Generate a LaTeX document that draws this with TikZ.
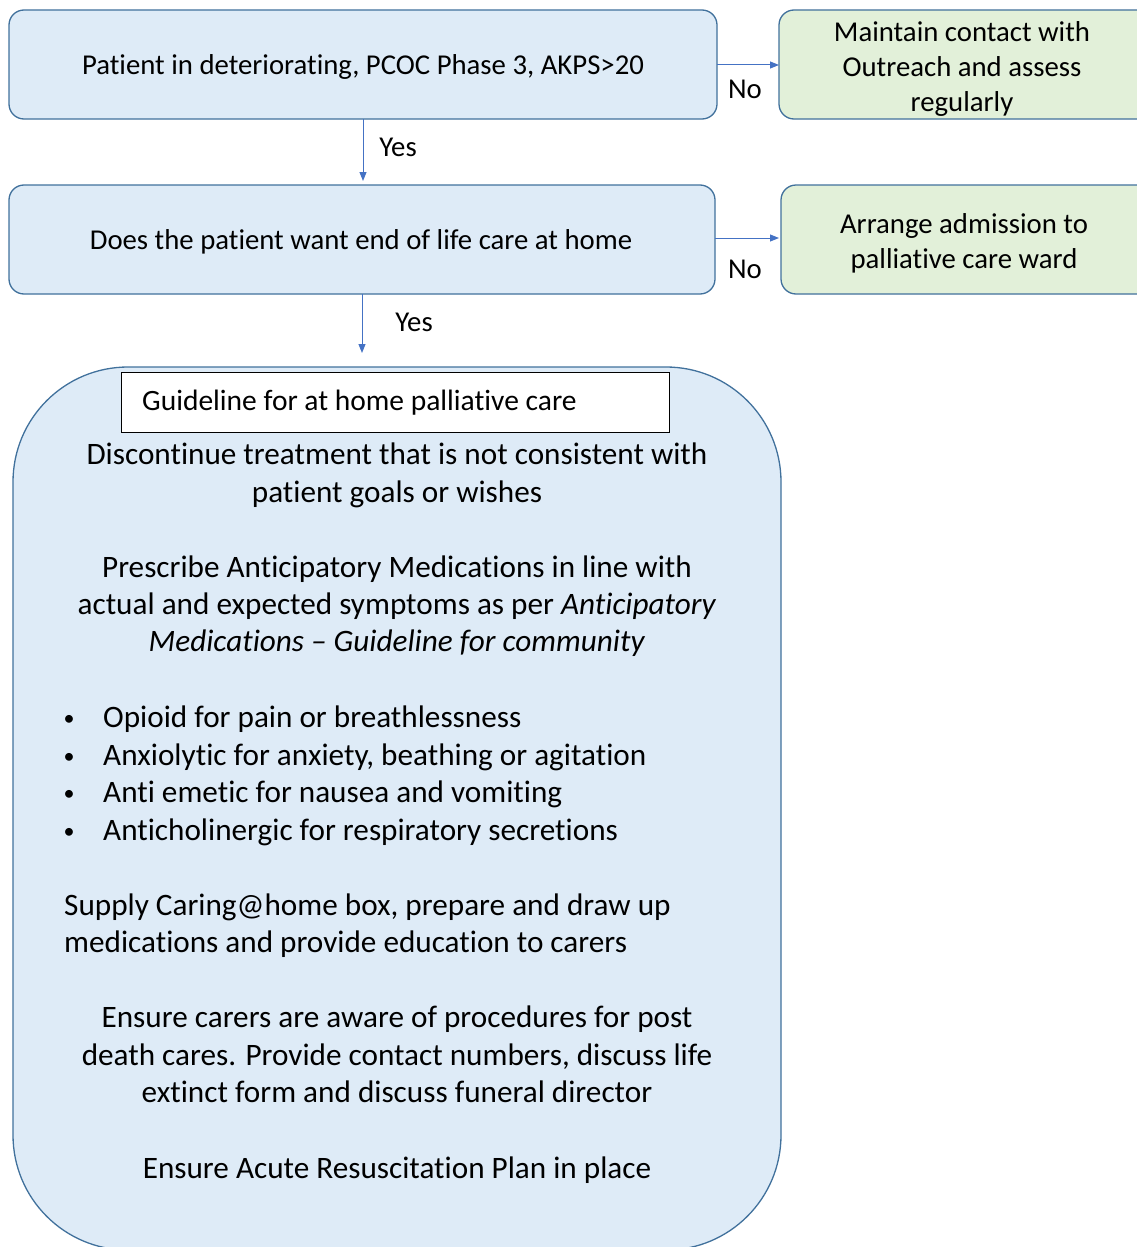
\documentclass[tikz,border=0pt]{standalone}
\usepackage{fontspec}
\setmainfont{Carlito}[Ligatures={NoCommon},Contextuals={NoAlternate}]
\usetikzlibrary{arrows.meta}
\definecolor{boxblue}{HTML}{DEEBF7}
\definecolor{boxgreen}{HTML}{E2F0D9}
\definecolor{edgeblue}{HTML}{41719C}
\definecolor{arrowblue}{HTML}{4472C4}
\tikzset{
  flowbox/.style={draw=edgeblue, line width=1.3pt, rounded corners=15pt},
  bluebox/.style={flowbox, fill=boxblue},
  greenbox/.style={flowbox, fill=boxgreen},
  conn/.style={draw=arrowblue, line width=1pt, -{Triangle[length=9pt,width=7pt]}},
  smalltxt/.style={font=\fontsize{28.75}{35}\selectfont, inner sep=0pt, align=center},
  bigtxt/.style={font=\fontsize{31.2}{37.5}\selectfont, inner sep=0pt, anchor=base},
  bullettxt/.style={font=\fontsize{22}{37.5}\selectfont, inner sep=0pt, anchor=base},
}
\begin{document}
\begin{tikzpicture}[x=1pt,y=-1pt]
\useasboundingbox (0,0) rectangle (1137,1247);
\clip (0,0) rectangle (1137,1247);

% top row
\draw[bluebox] (9,10) rectangle (717,119);
\node[smalltxt] (q1) at (363,67) {Patient in deteriorating, PCOC Phase 3, AKPS>20};
\coordinate (q1r) at (717,65);
\coordinate (q1b) at (363,119);
\draw[greenbox] (779,10) rectangle (1160,119);
\node[smalltxt] (g1) at (962,69) {Maintain contact with\\Outreach and assess\\regularly};
\coordinate (g1l) at (779,65);

% second row
\draw[bluebox] (9,185) rectangle (715,294);
\node[smalltxt] (q2) at (361,242) {Does the patient want end of life care at home};
\coordinate (q2t) at (363,181);
\coordinate (q2r) at (715,238);
\coordinate (q2b) at (362,294);
\draw[greenbox] (781,185) rectangle (1160,294);
\node[smalltxt] (g2) at (964,243) {Arrange admission to\\palliative care ward};
\coordinate (g2l) at (779,238);

% connectors
\draw[conn] (q1r) -- (g1l);
\node[smalltxt] (no1) at (745,89) {No};
\draw[conn] (q1b) -- (q2t);
\node[smalltxt] (yes1) at (398,147) {Yes};
\draw[conn] (q2r) -- (g2l);
\node[smalltxt] (no2) at (745,269) {No};
\coordinate (bigt) at (362,353);
\draw[conn] (q2b) -- (bigt);
\node[smalltxt] (yes2) at (414,322) {Yes};

% big guideline box
\draw[draw=edgeblue, line width=1.3pt, fill=boxblue, rounded corners=115pt] (13,367) rectangle (781,1250);
\node[draw=black, fill=white, line width=0.8pt, minimum width=548pt, minimum height=60pt, inner sep=0pt] (hdr) at (395,402) {};
\node[font=\fontsize{29.5}{34}\selectfont, inner sep=0pt, anchor=west] (hdrt) at (142,403) {Guideline for at home palliative care};

\node[bigtxt] (l1) at (397,464) {Discontinue treatment that is not consistent with};
\node[bigtxt] (l2) at (397,502) {patient goals or wishes};
\node[bigtxt] (l3) at (397,577) {Prescribe Anticipatory Medications in line with};
\node[bigtxt] (l4) at (397,614) {actual and expected symptoms as per \textit{Anticipatory}};
\node[bigtxt] (l5) at (397,651) {\textit{Medications – Guideline for community}};

\node[bullettxt] (b1) at (69,725) {•};
\node[bigtxt, anchor=base west] (t1) at (103,727) {Opioid for pain or breathlessness};
\node[bullettxt] (b2) at (69,763) {•};
\node[bigtxt, anchor=base west] (t2) at (103,765) {Anxiolytic for anxiety, beathing or agitation};
\node[bullettxt] (b3) at (69,800) {•};
\node[bigtxt, anchor=base west] (t3) at (103,802) {Anti emetic for nausea and vomiting};
\node[bullettxt] (b4) at (69,838) {•};
\node[bigtxt, anchor=base west] (t4) at (103,840) {Anticholinergic for respiratory secretions};

\node[bigtxt, anchor=base west] (s1) at (64,915) {Supply Caring@home box, prepare and draw up};
\node[bigtxt, anchor=base west] (s2) at (64,952) {medications and provide education to carers};

\node[bigtxt] (e1) at (397,1027) {Ensure carers are aware of procedures for post};
\node[bigtxt] (e2) at (397,1065) {death cares. Provide contact numbers, discuss life};
\node[bigtxt] (e3) at (397,1102) {extinct form and discuss funeral director};
\node[bigtxt] (r1) at (397,1178) {Ensure Acute Resuscitation Plan in place};
\end{tikzpicture}
\end{document}
